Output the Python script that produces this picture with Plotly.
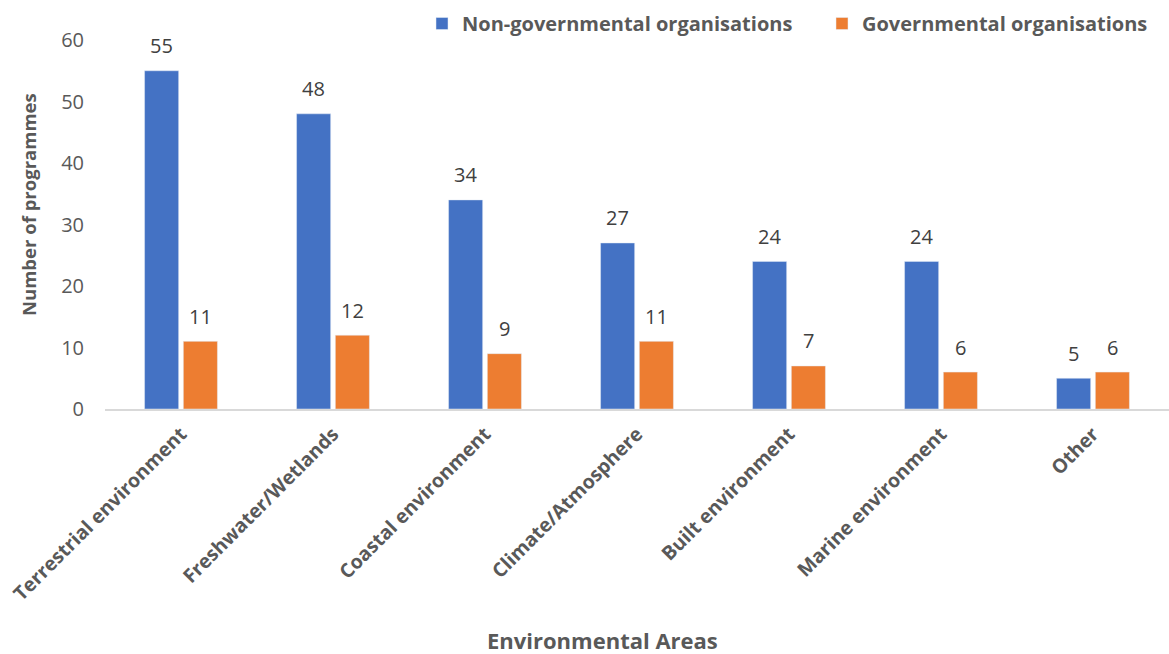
import plotly.graph_objects as go

categories = ["Terrestrial environment", "Freshwater/Wetlands", "Coastal environment",
              "Climate/Atmosphere", "Built environment", "Marine environment", "Other"]
ngo_values = [55, 48, 34, 27, 24, 24, 5]
gov_values = [11, 12, 9, 11, 7, 6, 6]
y_ticks = [0, 10, 20, 30, 40, 50, 60]

BLUE = "#4472C4"
ORANGE = "#ED7D31"
TEXT = "#595959"
FONT = "Open Sans"

W, H = 1169, 654
M_L, M_R, M_T, M_B = 105, 0, 10, 245
PLOT_TOP = 40  # pixel row of the y=60 level

fig = go.Figure()
fig.add_trace(go.Bar(name="<b>Non-governmental organisations</b>", x=categories, y=ngo_values,
                     marker_color=BLUE))
fig.add_trace(go.Bar(name="<b>Governmental organisations</b>", x=categories, y=gov_values,
                     marker_color=ORANGE))

BARGAP = 0.49
slot = (1 - BARGAP) / 2
annotations = []
for i, (a, b) in enumerate(zip(ngo_values, gov_values)):
    for val, dx in ((a, -slot / 2), (b, slot / 2)):
        annotations.append(dict(x=i + dx, y=val, xref="x", yref="y", text=str(val),
                                showarrow=False, yanchor="middle", yshift=25,
                                font=dict(family=FONT, size=20, color="#404040")))

# axis titles placed in page pixels
annotations.append(dict(x=(602 - M_L) / (W - M_L - M_R), y=0, xref="paper", yref="paper",
                        text="<b>Environmental Areas</b>", showarrow=False,
                        xanchor="center", yanchor="middle", yshift=-(640 - (H - M_B)),
                        font=dict(family=FONT, size=22, color=TEXT)))
annotations.append(dict(x=0, y=0, xref="paper", yref="paper", text="<b>Number of programmes</b>",
                        showarrow=False, textangle=-90, xanchor="center", yanchor="middle",
                        xshift=28 - M_L, yshift=(H - M_B) - 205,
                        font=dict(family=FONT, size=18.5, color=TEXT)))

plot_h = H - M_T - M_B
fig.update_layout(
    width=W, height=H,
    margin=dict(l=M_L, r=M_R, t=M_T, b=M_B, autoexpand=False),
    plot_bgcolor="white", paper_bgcolor="white",
    barmode="group", bargap=BARGAP, bargroupgap=0.12,
    font=dict(family=FONT, color=TEXT),
    showlegend=True,
    legend=dict(orientation="h", xref="paper", yref="paper",
                x=(422 - M_L) / (W - M_L - M_R), xanchor="left",
                y=1.0 + 6 / plot_h, yanchor="top",
                font=dict(family=FONT, size=20, color=TEXT),
                itemwidth=30, traceorder="normal", entrywidth=355),
    annotations=annotations,
)
fig.update_xaxes(showline=True, linecolor="#D9D9D9", linewidth=2, ticks="",
                 tickangle=-45, tickfont=dict(family=FONT, size=19.5, color=TEXT),
                 tickprefix="<b>", ticksuffix="</b>", showgrid=False, ticklabelstandoff=4)
fig.update_yaxes(range=[0, 60], tickvals=y_ticks, showgrid=False, zeroline=False,
                 showline=False, tickfont=dict(family=FONT, size=20, color=TEXT),
                 ticklabelstandoff=20,
                 domain=[0, (H - M_B - PLOT_TOP) / plot_h])

fig.write_html("out.html")
